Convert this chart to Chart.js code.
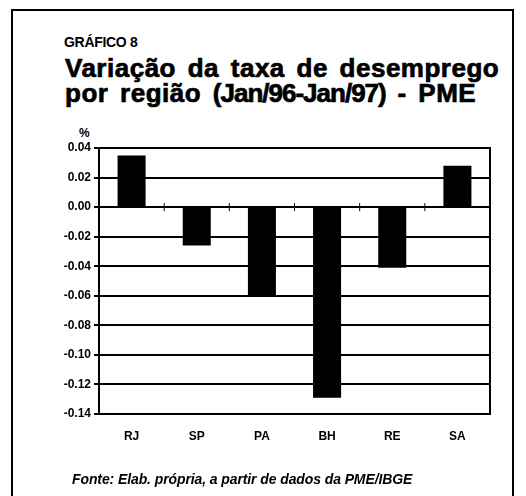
<!DOCTYPE html>
<html>
<head>
<meta charset="utf-8">
<script src="https://cdn.jsdelivr.net/npm/chart.js@4"></script>
<style>
  body { margin: 0; background: #fff; }
  #wrap { position: relative; width: 526px; height: 496px; overflow: hidden; font-family: 'Liberation Sans', Arial, sans-serif; }
  #frame { position: absolute; left: 11px; top: 9px; width: 503px; height: 520px; border: 2px solid #000; box-sizing: border-box; }
  .txt { position: absolute; color: #000; font-weight: bold; white-space: nowrap; }
  #kicker { left: 64px; top: 34px; font-size: 14px; letter-spacing: -0.3px; }
  #title { left: 65px; top: 56px; font-size: 26px; line-height: 25px; letter-spacing: 0.5px; word-spacing: 4px; -webkit-text-stroke: 0.7px #000; }
  #title .tight { letter-spacing: -1px; }
  #unit { left: 79px; top: 126px; font-size: 12px; }
  #source { left: 72px; top: 471px; font-size: 14px; font-style: italic; letter-spacing: -0.1px; }
  #chartBox { position: absolute; left: 0; top: 0; width: 526px; height: 496px; }
</style>
</head>
<body>
<div id="wrap">
  <div id="frame"></div>
  <div class="txt" id="kicker">GRÁFICO 8</div>
  <div class="txt" id="title">Variação da taxa de desemprego<br>por região <span class="tight">(Jan/96-Jan/97)</span> - PME</div>
  <div class="txt" id="unit">%</div>
  <div id="chartBox"><canvas id="chart"></canvas></div>
  <div class="txt" id="source">Fonte: Elab. própria, a partir de dados da PME/IBGE</div>
</div>
<script>
const regions = ['RJ', 'SP', 'PA', 'BH', 'RE', 'SA'];
const variation = [0.035, -0.026, -0.060, -0.129, -0.041, 0.028];
const yTicks = [0.04, 0.02, 0.00, -0.02, -0.04, -0.06, -0.08, -0.10, -0.12, -0.14];

const frameLines = {
    id: 'frameLines',
    afterDraw(chart) {
        const { ctx, chartArea, scales } = chart;
        ctx.save();
        ctx.strokeStyle = '#000';
        ctx.lineWidth = 2;
        // right border of the plot
        ctx.beginPath();
        ctx.moveTo(chartArea.right, chartArea.top - 1);
        ctx.lineTo(chartArea.right, chartArea.bottom + 1);
        ctx.stroke();
        // small ticks on the zero line between regions
        const y0 = scales.y.getPixelForValue(0);
        ctx.lineWidth = 1;
        for (let i = 0; i < regions.length - 1; i++) {
            const x = (scales.x.getPixelForValue(i) + scales.x.getPixelForValue(i + 1)) / 2;
            ctx.beginPath();
            ctx.moveTo(x, y0 - 4);
            ctx.lineTo(x, y0 + 4);
            ctx.stroke();
        }
        ctx.restore();
    }
};

Chart.defaults.font.family = "'Liberation Sans', Arial, sans-serif";
Chart.defaults.color = '#000';

new Chart(document.getElementById('chart'), {
    type: 'bar',
    data: {
        labels: regions,
        datasets: [{
            data: variation,
            backgroundColor: '#000',
            borderWidth: 0,
            barPercentage: 0.43,
            categoryPercentage: 1
        }]
    },
    options: {
        responsive: true,
        maintainAspectRatio: false,
        animation: false,
        layout: { padding: { left: 49, right: 36, top: 148, bottom: 42 } },
        plugins: { legend: { display: false }, tooltip: { enabled: false } },
        scales: {
            x: {
                afterFit: s => { s.height = 40; },
                grid: { display: false, drawTicks: false },
                border: { display: false },
                ticks: { padding: 15, font: { size: 12, weight: 'bold' } }
            },
            y: {
                min: -0.14,
                max: 0.04,
                afterFit: s => { s.width = 50; },
                afterBuildTicks: s => { s.ticks = yTicks.map(v => ({ value: v })); },
                grid: { color: '#000', lineWidth: 2, tickLength: 5 },
                border: { color: '#000', width: 2 },
                ticks: {
                    padding: 3,
                    font: { size: 12, weight: 'bold' },
                    callback: v => v.toFixed(2)
                }
            }
        }
    },
    plugins: [frameLines]
});
</script>
</body>
</html>
